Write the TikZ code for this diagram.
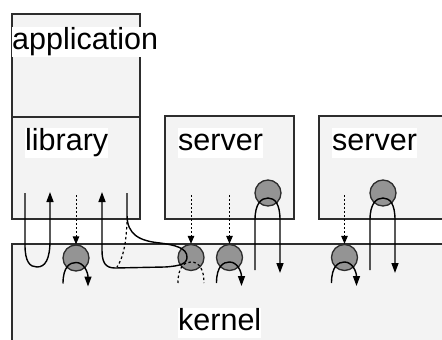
\documentclass[tikz,border=0pt]{standalone}
\usepackage{fontspec}
\setmainfont{Liberation Sans}
\usetikzlibrary{arrows.meta}
\definecolor{boxfill}{RGB}{243,243,243}
\definecolor{edge}{RGB}{45,45,45}
\definecolor{portfill}{RGB}{148,148,148}

\begin{document}
\begin{tikzpicture}[x=1pt,y=-1pt,
  box/.style={draw=edge, fill=boxfill, line width=1.3pt},
  boxlabel/.style={fill=white, inner sep=0pt, anchor=base west,
    font=\fontsize{30.5}{30.5}\selectfont, text height=22.5pt, text depth=7.5pt},
  port/.style={circle, draw=edge, fill=portfill, line width=1.3pt,
    minimum size=26pt, inner sep=0pt},
  flow/.style={line width=1.4pt, -{Triangle[length=10pt,width=7pt]}},
  msg/.style={line width=1pt, dash pattern=on 2pt off 2pt,
    -{Triangle[length=8pt,width=6.5pt]}},
  ghost/.style={line width=1.2pt, dash pattern=on 2.5pt off 2.5pt}
]
\useasboundingbox (0,0) rectangle (442,340);
\clip (0,0) rectangle (442,340);

% address spaces
\draw[box] (12,14) rectangle (140,219);
\draw[box] (12,117) -- (140,117);
\draw[box] (165,116) rectangle (294,219);
\draw[box] (319,116) rectangle (470,219);
\draw[box] (12,244) rectangle (470,370);

% labels
\node[boxlabel] (app)  at (12,49.5)   {application};
\node[boxlabel] (lib)  at (25,150.5)  {library};
\node[boxlabel] (srvA) at (178,150.5) {server};
\node[boxlabel] (srvB) at (332,150.5) {server};
\node[boxlabel] (kern) at (178,330.5) {kernel};

% ports
\node[port] (p1) at (76,258)    {};
\node[port] (p2) at (191,257.5) {};
\node[port] (p3) at (229.5,257.5) {};
\node[port] (p4) at (268,193)   {};
\node[port] (p5) at (344.5,257.5) {};
\node[port] (p6) at (383,193)   {};

% messages sent to kernel ports
\draw[msg] ([shift={(0,-63)}]p1.center) -- (p1.north);
\draw[msg] ([shift={(0,-62.5)}]p2.center) -- (p2.north);
\draw[msg] ([shift={(0,-62.5)}]p3.center) -- (p3.north);
\draw[msg] ([shift={(0,-62.5)}]p5.center) -- (p5.north);

% threads passing through kernel ports
\foreach \p in {p1,p3,p5}{
  \draw[flow] ([shift={(-13,25.5)}]\p.center)
    .. controls +(0,-17) and +(-6,0) .. ([shift={(0,4.5)}]\p.center)
    .. controls +(8,0) and +(0,-14) .. ([shift={(12,28.5)}]\p.center);
}
\draw[ghost] ([shift={(-13,25.5)}]p2.center)
  .. controls +(0,-17) and +(-6,0) .. ([shift={(0,4.5)}]p2.center)
  .. controls +(8,0) and +(0,-14) .. ([shift={(13,25.5)}]p2.center);

% threads passing through server ports
\foreach \p in {p4,p6}{
  \draw[flow] ([shift={(-13,77)}]\p.center) -- ([shift={(-13,27)}]\p.center)
    .. controls +(0,-16) and +(-7,0) .. ([shift={(0,5)}]\p.center)
    .. controls +(7,0) and +(0,-16) .. ([shift={(12,27)}]\p.center)
    -- ([shift={(12,80)}]\p.center);
}

% system call from the library
\draw[flow] (25,193) -- (25,245) .. controls (25,262) and (30,267) .. (37,267)
  .. controls (45,267) and (50,260) .. (50,240) -- (50,192);

% call into the kernel port and back
\draw[flow] (127,193) -- (127,215) .. controls (127,235) and (140,241) .. (160,243)
  .. controls (175,245) and (187,248) .. (187,257)
  .. controls (187,264) and (180,266) .. (165,267) -- (115,268)
  .. controls (105,268) and (102,262) .. (102,250) -- (102,192);
\draw[ghost] (127,222) .. controls (126,245) and (123,258) .. (117,267);
\end{tikzpicture}
\end{document}
